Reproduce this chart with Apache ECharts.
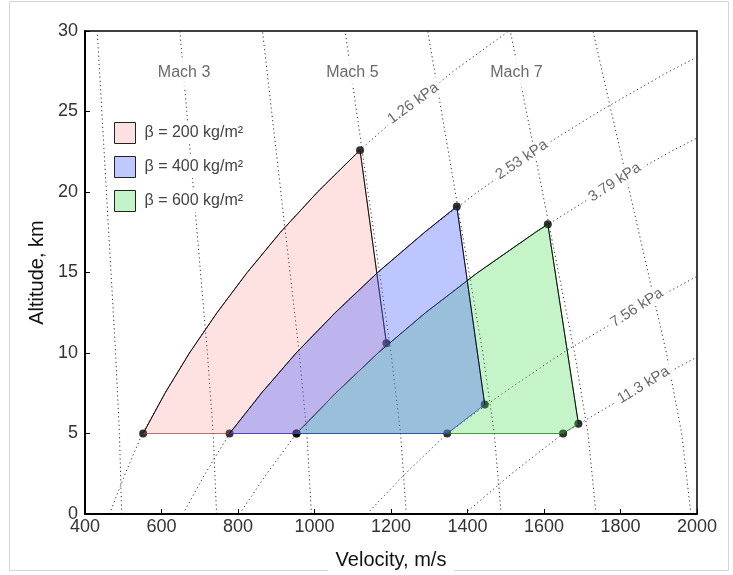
<!DOCTYPE html>
<html>
<head>
<meta charset="utf-8">
<script src="https://cdn.jsdelivr.net/npm/echarts@6/dist/echarts.min.js"></script>
<style>html,body{margin:0;padding:0;background:#fff;}#chart{width:733px;height:575px;}</style>
</head>
<body>
<div id="chart"></div>
<script>
// ---------- data ----------
const xTicks = [400, 600, 800, 1000, 1200, 1400, 1600, 1800, 2000];
const yTicks = [0, 5, 10, 15, 20, 25, 30];

// constant dynamic-pressure guide curves: velocity (m/s) at each altitude (km)
const altitudeLevels = [0, 2.5, 5, 7.5, 10, 12.5, 15, 17.5, 20, 22.5, 25, 27.5, 30];
const qNames = ['1.26 kPa', '2.53 kPa', '3.79 kPa', '7.56 kPa', '11.3 kPa'];
const q126Velocity = [464, 505, 550, 609, 673, 745, 824, 911, 1008, 1114, 1233, 1363, 1508];
const q253Velocity = [656, 714, 778, 861, 952, 1054, 1165, 1288, 1426, 1575, 1744, 1928, 2133];
const q379Velocity = [804, 875, 953, 1055, 1166, 1290, 1427, 1578, 1746, 1930, 2136];
const q756Velocity = [1137, 1237, 1347, 1492, 1648, 1825, 2018];
const q1130Velocity = [1392, 1515, 1650, 1827, 2019];
const qLabelVelocity = [1258, 1542, 1785, 1843, 1860];
const qLabelAltitude = [25.5, 22.0, 20.6, 12.8, 8.0];
const qLabelAngle = [36, 34, 33, 33, 31];

// Mach guide lines: velocity (m/s) at each altitude (km)
const machAltitudes = [0, 5, 10, 15, 20, 25, 30];
const mach2Velocity = [496, 490, 480, 468, 456, 444, 432];
const mach3Velocity = [744, 735, 720, 702, 684, 666, 648];
const mach4Velocity = [992, 980, 960, 936, 912, 888, 864];
const mach5Velocity = [1240, 1225, 1200, 1170, 1140, 1110, 1080];
const mach6Velocity = [1488, 1470, 1440, 1404, 1368, 1332, 1296];
const mach7Velocity = [1736, 1715, 1680, 1638, 1596, 1554, 1512];
const mach8Velocity = [1984, 1960, 1920, 1872, 1824, 1776, 1728];
const machLabelNames = ['Mach 3', 'Mach 5', 'Mach 7'];
const machLabelVelocity = [659, 1099, 1528];
const machLabelAltitude = 27.4;

// flight envelopes [velocity, altitude]
const betaNames = ['β = 200 kg/m²', 'β = 400 kg/m²', 'β = 600 kg/m²'];
const beta200Envelope = [[552,5],[609,7.5],[673,10],[745,12.5],[824,15],[911,17.5],[1008,20],[1119,22.6],[1188,10.6],[1166,10],[1055,7.5],[953,5]];
const beta400Envelope = [[778,5],[861,7.5],[952,10],[1054,12.5],[1165,15],[1288,17.5],[1372,19.1],[1445,6.8],[1347,5]];
const beta600Envelope = [[953,5],[1055,7.5],[1166,10],[1290,12.5],[1427,15],[1578,17.5],[1610,18.0],[1690,5.6],[1650,5]];
const beta200Corners = [0, 7, 8, 11];
const beta400Corners = [0, 6, 7, 8];
const beta600Corners = [0, 6, 7, 8];

// ---------- chart ----------
const FONT = 'Liberation Sans, Arial, Helvetica, sans-serif';
const dotted = {type: 'line', showSymbol: false, symbol: 'none', silent: true, z: 1,
  lineStyle: {type: [1.2, 3], width: 1, color: '#333'}};

const series = [];
[q126Velocity, q253Velocity, q379Velocity, q756Velocity, q1130Velocity].forEach(arr => {
  series.push(Object.assign({}, dotted, {data: arr.map((v, i) => [v, altitudeLevels[i]])}));
});
[mach2Velocity, mach3Velocity, mach4Velocity, mach5Velocity, mach6Velocity, mach7Velocity, mach8Velocity].forEach(arr => {
  series.push(Object.assign({}, dotted, {data: arr.map((v, i) => [v, machAltitudes[i]])}));
});

const fills = ['rgba(250,110,110,0.2)', 'rgba(80,100,255,0.37)', 'rgba(60,220,70,0.3)'];
const strokes = ['rgba(150,60,60,0.7)', 'rgba(50,50,190,0.7)', 'rgba(30,130,30,0.8)'];
const swatches = ['#fde1e1', '#bfc8ff', '#c3f4c7'];
const envelopes = [beta200Envelope, beta400Envelope, beta600Envelope];
const corners = [beta200Corners, beta400Corners, beta600Corners];
const zOrder = [3, 4, 2];

envelopes.forEach((pts, k) => {
  const rightIdx = corners[k][2];
  // vertex dots
  series.push({type: 'scatter', silent: true, z: 1.5, symbolSize: 8,
    itemStyle: {color: '#000'},
    data: corners[k].map(i => pts[i])});
  series.push({
    type: 'custom', name: betaNames[k], coordinateSystem: 'cartesian2d', z: zOrder[k] + 2,
    silent: true, itemStyle: {color: swatches[k]},
    data: [pts[0]],
    renderItem: (params, api) => {
      const p = pts.map(q => api.coord(q));
      return {type: 'group', children: [
        {type: 'polygon', shape: {points: p}, style: {fill: fills[k], stroke: strokes[k], lineWidth: 1}},
        {type: 'polyline', shape: {points: p.slice(0, rightIdx + 1)}, style: {stroke: '#111', lineWidth: 1, fill: null}}
      ]};
    }
  });
});

// guide labels
series.push({type: 'scatter', silent: true, z: 10, symbolSize: 1, itemStyle: {color: 'rgba(0,0,0,0)'},
  data: machLabelNames.map((n, i) => ({name: n, value: [machLabelVelocity[i], machLabelAltitude]})),
  label: {show: true, position: 'inside', formatter: '{b}', fontFamily: FONT, fontSize: 16, color: '#444',
    backgroundColor: '#fff', padding: [7, 2]}});
series.push({type: 'scatter', silent: true, z: 10, symbolSize: 1, itemStyle: {color: 'rgba(0,0,0,0)'},
  data: qNames.map((n, i) => ({name: n, value: [qLabelVelocity[i], qLabelAltitude[i]],
    label: {rotate: qLabelAngle[i]}})),
  label: {show: true, position: 'inside', formatter: '{b}', fontFamily: FONT, fontSize: 15, color: '#444',
    backgroundColor: '#fff', padding: [1, 4]}});

const option = {
  animation: false,
  backgroundColor: '#fff',
  graphic: {elements: [{type: 'rect', z: -10, silent: true,
    shape: {x: 9.5, y: 1.5, width: 719, height: 569}, style: {fill: null, stroke: '#d4d4d4', lineWidth: 1}}]},
  grid: {left: 85, right: 36, top: 31, bottom: 61, show: true, borderColor: '#000', borderWidth: 1.5,
    backgroundColor: 'transparent', containLabel: false, outerBoundsMode: 'none'},
  legend: betaNames.map((n, i) => ({
    data: [{name: n, itemStyle: {color: swatches[i], borderColor: '#222', borderWidth: 1}}],
    left: 114, top: 122 + i * 34, icon: 'rect', itemWidth: 21, itemHeight: 21, padding: [0, 2, 0, 0],
    backgroundColor: '#fff', selectedMode: false,
    textStyle: {fontFamily: FONT, fontSize: 16, color: '#444', padding: [0, 0, 0, 4]}
  })),
  xAxis: {
    type: 'value', min: xTicks[0], max: xTicks[xTicks.length - 1], interval: 200, z: 5,
    name: 'Velocity, m/s', nameLocation: 'middle', nameGap: 34,
    nameTextStyle: {fontFamily: FONT, fontSize: 20, color: '#111', backgroundColor: '#fff', padding: [2, 8, 6, 8]},
    axisLine: {lineStyle: {color: '#000', width: 2}},
    axisTick: {inside: true, length: 5, lineStyle: {color: '#000'}},
    axisLabel: {fontFamily: FONT, fontSize: 18, color: '#333', margin: 4, formatter: v => String(v)},
    splitLine: {show: false}
  },
  yAxis: {
    type: 'value', min: yTicks[0], max: yTicks[yTicks.length - 1], interval: 5,
    name: 'Altitude, km', nameLocation: 'middle', nameGap: 37,
    nameTextStyle: {fontFamily: FONT, fontSize: 20, color: '#111'},
    axisLine: {lineStyle: {color: '#000', width: 2}},
    axisTick: {inside: true, length: 5, lineStyle: {color: '#000'}},
    axisLabel: {fontFamily: FONT, fontSize: 18, color: '#333', margin: 7, formatter: v => String(v)},
    splitLine: {show: false}
  },
  series: series
};

const chart = echarts.init(document.getElementById('chart'), null, {renderer: 'canvas'});
chart.setOption(option);
</script>
</body>
</html>
